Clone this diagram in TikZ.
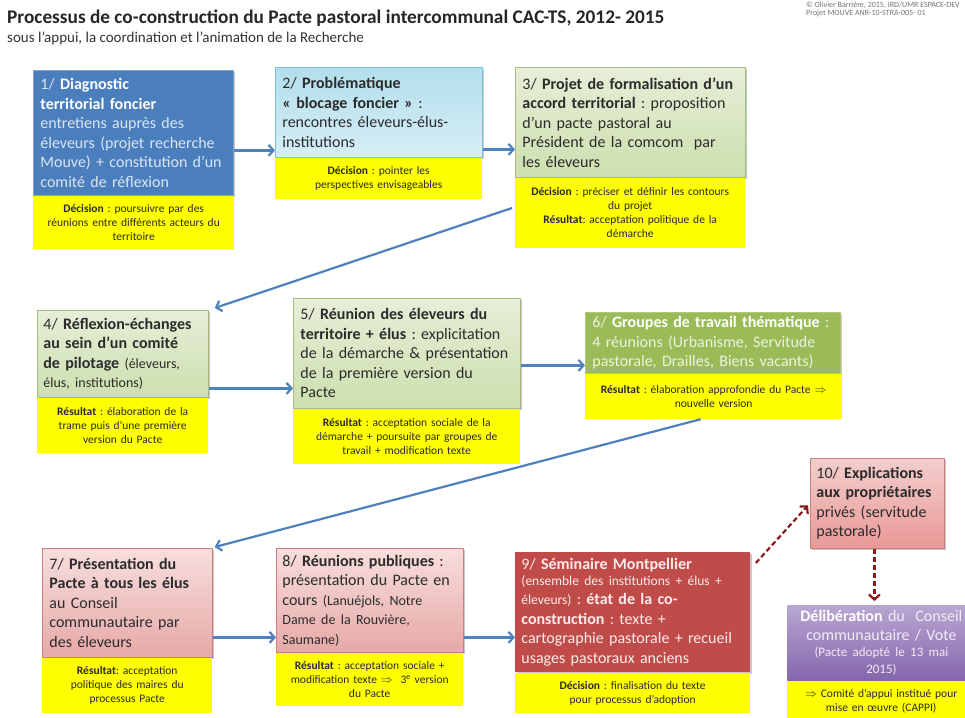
\documentclass[tikz,border=0pt]{standalone}
\usepackage{fontspec}
\setmainfont{Carlito}
\usetikzlibrary{arrows.meta,shadows,calc}
\frenchspacing
\definecolor{yel}{HTML}{FFFF00}
\definecolor{arrblue}{HTML}{4F81BD}
\definecolor{darkred}{HTML}{8B1A1A}
\definecolor{blueone}{HTML}{4A7EBD}
\definecolor{bluetxt}{HTML}{DCE6F2}
\definecolor{cyantop}{HTML}{B3DEEC}
\definecolor{cyanbot}{HTML}{D6EEF6}
\definecolor{cyanborder}{HTML}{7FC3DB}
\definecolor{grtop}{HTML}{E6EED8}
\definecolor{grbot}{HTML}{CDDFAE}
\definecolor{grborder}{HTML}{A5BE7E}
\definecolor{olive}{HTML}{9BBB59}
\definecolor{olivetxt}{HTML}{EDF2E0}
\definecolor{pktop}{HTML}{F7DEDD}
\definecolor{pkbot}{HTML}{E6A9A7}
\definecolor{pkborder}{HTML}{C97F7D}
\definecolor{rednine}{HTML}{BF4C49}
\definecolor{putop}{HTML}{B8A6D2}
\definecolor{pubot}{HTML}{8466AC}
\definecolor{txt}{HTML}{2B2B2B}
\newcommand\hlw[1]{\textcolor{white}{\textbf{#1}}}
\newcommand\smtxt[1]{{\fontsize{14}{19.5}\selectfont #1}}
\newcommand\smnine[1]{{\fontsize{13.5}{19.5}\selectfont #1}}
\tikzset{
  softshadow/.style={drop shadow={shadow xshift=1.5pt, shadow yshift=-1.5pt, opacity=0.22, fill=black}},
  box/.style={anchor=north west, inner xsep=7pt, inner ysep=1pt, align=left, text=txt,
              font=\fontsize{16}{19.5}\selectfont, line width=0.8pt, softshadow},
  greenbox/.style={box, draw=grborder, top color=grtop, bottom color=grbot},
  pinkbox/.style={box, draw=pkborder, top color=pktop, bottom color=pkbot},
  ybox/.style={anchor=north west, fill=yel, inner sep=2pt, align=center, text=txt,
               font=\fontsize{11.5}{14}\selectfont},
  arr/.style={draw=arrblue, line width=2.2pt, -{Straight Barb[length=5pt,width=11pt]}},
  darr/.style={draw=darkred, line width=2.2pt, dash pattern=on 5pt off 3pt, -{Straight Barb[length=5pt,width=11pt]}},
}
\begin{document}
\begin{tikzpicture}[x=1pt,y=-1pt]
\path[use as bounding box, fill=white] (0,0) rectangle (965,717);

% titles
\node[anchor=base west, inner sep=0, font=\bfseries\fontsize{19.3}{22}\selectfont, text=black!85] (title) at (7,24)
  {Processus de co-construction du Pacte pastoral intercommunal CAC-TS, 2012- 2015};
\node[anchor=base west, inner sep=0, font=\fontsize{15}{17}\selectfont, text=black!80] (subtitle) at (7,42)
  {sous l'appui, la coordination et l'animation de la Recherche};
\node[anchor=base west, inner sep=0, font=\fontsize{8}{9}\selectfont, text=black!55] (cr1) at (806,8)
  {© Olivier Barrière, 2015, IRD/UMR ESPACE-DEV};
\node[anchor=base west, inner sep=0, font=\fontsize{8}{9}\selectfont, text=black!55] (cr2) at (806,16)
  {Projet MOUVE ANR-10-STRA-005- 01};

% Row 1
\node[box, draw=blueone!70!white, fill=blueone, text=bluetxt, minimum width=200pt, text width=186pt, minimum height=125pt] (b1) at (33,70)
  {1/ \hlw{Diagnostic}\\ \hlw{territorial foncier}\\ entretiens auprès des\\ éleveurs (projet recherche\\ Mouve) + constitution d'un\\ comité de réflexion};
\node[ybox, minimum width=201pt, text width=193pt, minimum height=53pt] (y1) at (b1.south west)
  {\textbf{Décision} : poursuivre par des\\ réunions entre différents acteurs du\\ territoire};

\node[box, draw=cyanborder, top color=cyantop, bottom color=cyanbot, minimum width=207pt, text width=193pt, minimum height=90pt] (b2) at (275,67)
  {2/ \textbf{Problématique}\\ \textbf{« blocage foncier »} :\\ rencontres éleveurs-élus-\\ institutions};
\node[ybox, minimum width=207pt, text width=199pt, minimum height=41pt] (y2) at (b2.south west)
  {\textbf{Décision} : pointer les\\ perspectives envisageables};

\node[greenbox, minimum width=230pt, text width=216pt, minimum height=110pt] (b3) at (515,67)
  {3/ \textbf{Projet de formalisation d'un}\\ \textbf{accord territorial} : proposition\\ d'un pacte pastoral au\\ Président de la comcom\ \ par\\ les éleveurs};
\node[ybox, minimum width=230pt, text width=222pt, minimum height=70pt] (y3) at (b3.south west)
  {\textbf{Décision} : préciser et définir les contours\\ du projet\\ \textbf{Résultat}: acceptation politique de la\\ démarche};

% Row 2
\node[greenbox, minimum width=171pt, text width=159pt, inner xsep=6pt, minimum height=87pt] (b4) at (37,310)
  {4/ \textbf{Réflexion-échanges}\\ \textbf{au sein d'un comité}\\ \textbf{de pilotage} \smtxt{(éleveurs,}\\ \smtxt{élus, institutions)}};
\node[ybox, minimum width=171pt, text width=163pt, minimum height=55pt] (y4) at (b4.south west)
  {\textbf{Résultat} : élaboration de la\\ trame puis d'une première\\ version du Pacte};

\node[greenbox, minimum width=227pt, text width=213pt, minimum height=110pt] (b5) at (293,298)
  {5/ \textbf{Réunion des éleveurs du}\\ \textbf{territoire + élus} : explicitation\\ de la démarche \& présentation\\ de la première version du\\ Pacte};
\node[ybox, minimum width=227pt, text width=219pt, minimum height=55pt] (y5) at (b5.south west)
  {\textbf{Résultat} : acceptation sociale de la\\ démarche + poursuite par groupes de\\ travail + modification texte};

\node[box, draw=olive!80!white, fill=olive, text=olivetxt, inner ysep=0pt, minimum width=255pt, text width=241pt, minimum height=61pt] (b6) at (585,312)
  {6/ \hlw{Groupes de travail thématique} :\\ 4 réunions (Urbanisme, Servitude\\ pastorale, Drailles, Biens vacants)};
\node[ybox, minimum width=257pt, text width=249pt, minimum height=45pt] (y6) at (b6.south west)
  {\textbf{Résultat} : élaboration approfondie du Pacte $\Rightarrow$\\ nouvelle version};

% Row 3
\node[pinkbox, minimum width=170pt, text width=156pt, minimum height=109pt] (b7) at (42,548)
  {7/ \textbf{Présentation du}\\ \textbf{Pacte à tous les élus}\\ au Conseil\\ communautaire par\\ des éleveurs};
\node[ybox, minimum width=170pt, text width=162pt, minimum height=55pt] (y7) at (b7.south west)
  {\textbf{Résultat}: acceptation\\ politique des maires du\\ processus Pacte};

\node[pinkbox, minimum width=187pt, text width=175pt, inner xsep=6pt, minimum height=104pt] (b8) at (276,548)
  {8/ \textbf{Réunions publiques} :\\ présentation du Pacte en\\ cours \smtxt{(Lanuéjols, Notre}\\ \smtxt{Dame de la Rouvière,}\\ \smtxt{Saumane)}};
\node[ybox, minimum width=187pt, text width=179pt, minimum height=53pt] (y8) at (b8.south west)
  {\textbf{Résultat} : acceptation sociale +\\ modification texte $\Rightarrow$\ \ 3\textsuperscript{e} version\\ du Pacte};

\node[box, fill=rednine, text=white!92!red, minimum width=235pt, text width=223pt, inner xsep=6pt, minimum height=120pt] (b9) at (515,552)
  {9/ \textbf{Séminaire Montpellier}\\[-4pt] \smnine{(ensemble des institutions + élus +}\\ \smnine{éleveurs)} : \textbf{état de la co-}\\ \textbf{construction} : texte +\\ cartographie pastorale + recueil\\ usages pastoraux anciens};
\node[ybox, minimum width=235pt, text width=227pt, minimum height=40pt] (y9) at (b9.south west)
  {\textbf{Décision} : finalisation du texte\\ pour processus d'adoption};

\node[box, draw=pkborder, top color=pktop!70!pkbot, bottom color=pkbot!90!red, inner xsep=6pt, minimum width=134pt, text width=122pt, minimum height=90pt] (b10) at (810,458)
  {10/ \textbf{Explications}\\ \textbf{aux propriétaires}\\ privés (servitude\\ pastorale)};

\node[box, top color=putop, bottom color=pubot, text=white!92!violet, align=center, font=\fontsize{16}{18.5}\selectfont, minimum width=188pt, text width=178pt, inner xsep=5pt, minimum height=75pt] (b11) at (787,605)
  {\hlw{Délibération} du\ \ Conseil\\ communautaire / Vote\\[-2pt] {\fontsize{13}{16}\selectfont (Pacte adopté le 13 mai}\\[-2pt] {\fontsize{13}{16}\selectfont 2015)}};
\node[ybox, minimum width=188pt, text width=180pt, minimum height=40pt] (y11) at (b11.south west)
  {$\Rightarrow$ Comité d'appui institué pour\\ mise en œuvre (CAPPI)};

% connectors
\draw[arr] ([yshift=-17.5pt]b1.east) coordinate (a12) -- (a12 -| b2.west);
\draw[arr] ([yshift=-37pt]b2.east) coordinate (a23) -- (a23 -| b3.west);
\draw[arr] ([xshift=-3pt,yshift=5pt]y3.west) -- ([xshift=6pt,yshift=2pt]b4.north east);
\draw[arr] ([yshift=-34.5pt]b4.east) coordinate (a45) -- (a45 -| b5.west);
\draw[arr] ([yshift=-12pt]b5.east) coordinate (a56) -- (a56 -| b6.west);
\draw[arr] ([xshift=-13pt]y6.south) -- ([xshift=2pt,yshift=1pt]b7.north east);
\draw[arr] ([yshift=-34.5pt]b7.east) coordinate (a78) -- (a78 -| b8.west);
\draw[arr] ([yshift=-37pt]b8.east) coordinate (a89) -- (a89 -| b9.west);
\draw[darr] ([xshift=5pt,yshift=-11pt]b9.north east) -- ([xshift=-2pt,yshift=-2pt]b10.west);
\draw[darr] ([xshift=-3pt]b10.south) coordinate (a1011) -- ([yshift=4pt]a1011 |- b11.north);
\end{tikzpicture}
\end{document}
